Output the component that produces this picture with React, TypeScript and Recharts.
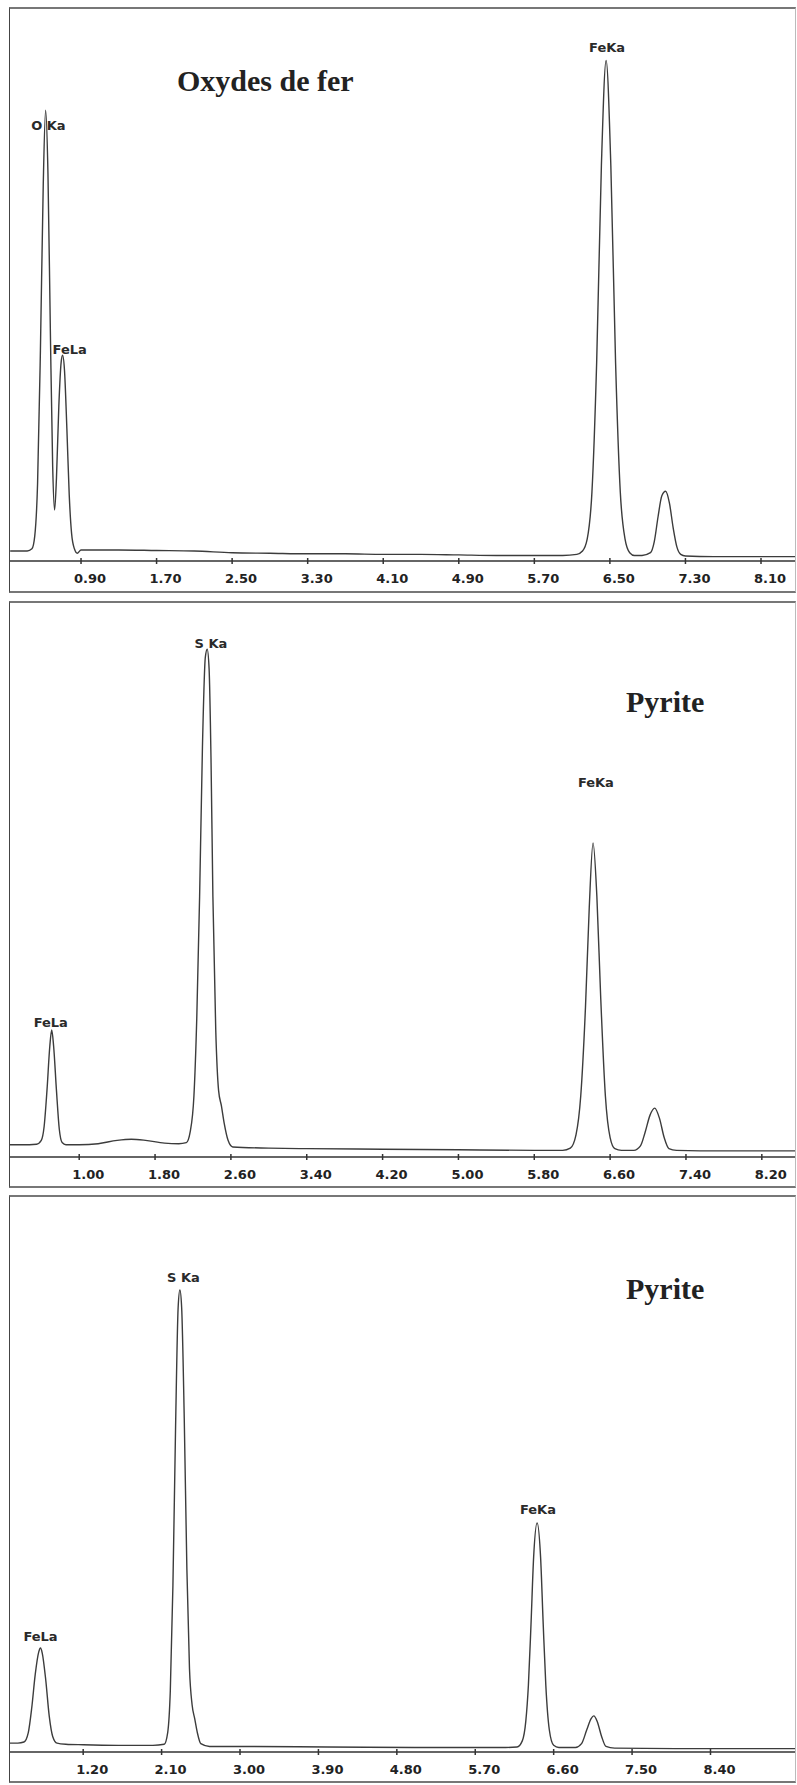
import { LineChart, Line, XAxis, YAxis, ReferenceDot } from "recharts";

// Spectre 1 : oxydes de fer (keV / coups relatifs)
const energies1 = [
  0.15, 0.25, 0.33, 0.38, 0.41, 0.44, 0.47, 0.5, 0.525, 0.55, 0.575, 0.6, 0.62, 0.64, 0.665, 0.69, 0.705, 0.725,
  0.75, 0.775, 0.8, 0.83, 0.86, 0.9, 1.0, 1.3, 1.7, 2.1, 2.5, 2.9, 3.3, 3.7, 4.1, 4.5, 4.9, 5.3, 5.7, 6.0, 6.15,
  6.21, 6.26, 6.31, 6.36, 6.41, 6.46, 6.51, 6.56, 6.61, 6.66, 6.71, 6.76, 6.84, 6.93, 6.97, 7.01, 7.05, 7.09,
  7.13, 7.17, 7.21, 7.25, 7.3, 7.6, 8.0, 8.46,
];
const counts1 = [
  18, 18, 18, 22, 45, 140, 380, 680, 815, 700, 420, 170, 92, 150, 280, 360, 372, 345,
  240, 120, 50, 22, 14, 20, 20, 20, 19, 18, 15, 14, 13, 13, 12, 12, 11, 10, 10, 10, 12,
  18, 40, 125, 360, 715, 905, 715, 360, 125, 40, 15, 10, 10, 15, 35, 80, 118, 126,
  105, 60, 25, 12, 9, 8, 8, 8,
];
const ticks1 = [0.9, 1.7, 2.5, 3.3, 4.1, 4.9, 5.7, 6.5, 7.3, 8.1];

// Spectre 2 : pyrite
const energies2 = [
  0.27, 0.4, 0.55, 0.6, 0.63, 0.66, 0.69, 0.71, 0.73, 0.76, 0.79, 0.82, 0.86, 1.0, 1.2, 1.4, 1.55, 1.7, 1.9,
  2.05, 2.13, 2.17, 2.21, 2.24, 2.27, 2.3, 2.33, 2.35, 2.37, 2.39, 2.41, 2.44, 2.47, 2.5, 2.53, 2.57, 2.62,
  3.0, 3.4, 4.2, 5.0, 5.8, 6.1, 6.18, 6.24, 6.29, 6.34, 6.38, 6.42, 6.46, 6.5, 6.55, 6.6, 6.65, 6.72, 6.85,
  6.92, 6.97, 7.02, 7.07, 7.12, 7.17, 7.22, 7.3, 7.8, 8.55,
];
const counts2 = [
  22, 22, 23, 30, 55, 120, 200, 229, 200, 120, 50, 26, 22, 22, 24, 30, 32, 30, 25,
  24, 26, 45, 110, 250, 470, 740, 900, 915, 880, 720, 470, 230, 120, 92, 60, 30, 18,
  16, 15, 14, 13, 12, 12, 16, 40, 110, 270, 450, 566, 470, 290, 110, 35, 15, 12, 12,
  20, 45, 75, 88, 70, 35, 15, 12, 11, 11,
];
const ticks2 = [1.0, 1.8, 2.6, 3.4, 4.2, 5.0, 5.8, 6.6, 7.4, 8.2];

// Spectre 3 : pyrite
const energies3 = [
  0.36, 0.45, 0.52, 0.57, 0.61, 0.65, 0.69, 0.71, 0.73, 0.77, 0.81, 0.85, 0.9, 1.0, 1.2, 1.6, 2.0,
  2.13, 2.17, 2.2, 2.23, 2.26, 2.29, 2.31, 2.33, 2.36, 2.39, 2.42, 2.45, 2.48, 2.51, 2.55, 2.65,
  3.0, 4.0, 5.0, 6.0, 6.18, 6.24, 6.28, 6.31, 6.34, 6.37, 6.41, 6.45, 6.48, 6.51, 6.55, 6.6, 6.66, 6.85,
  6.92, 6.98, 7.03, 7.06, 7.1, 7.15, 7.2, 7.3, 8.0, 9.37,
];
const counts3 = [
  16, 16, 18, 35, 80, 140, 180, 187, 178, 130, 65, 28, 16, 14, 13, 12, 12,
  14, 35, 110, 300, 580, 800, 831, 800, 600, 330, 150, 85, 60, 35, 15, 10,
  10, 9, 8, 8, 9, 20, 55, 120, 230, 350, 412, 350, 230, 120, 40, 12, 8, 8,
  15, 40, 60, 65, 55, 28, 10, 7, 6, 6,
];
const ticks3 = [1.2, 2.1, 3.0, 3.9, 4.8, 5.7, 6.6, 7.5, 8.4];

// Étiquettes des raies : [texte, keV, hauteur]
const peaks1: [string, number, number][] = [
  ["O Ka", 0.555, 787],
  ["FeLa", 0.78, 383],
  ["FeKa", 6.47, 928],
];
const peaks2: [string, number, number][] = [
  ["S Ka", 2.39, 926],
  ["FeLa", 0.7, 243],
  ["FeKa", 6.45, 674],
];
const peaks3: [string, number, number][] = [
  ["S Ka", 2.35, 853],
  ["FeLa", 0.71, 207],
  ["FeKa", 6.42, 437],
];

const zip = (e: number[], c: number[]) => e.map((kev, i) => ({ kev, counts: c[i] }));

const SANS = "'DejaVu Sans', Verdana, sans-serif";
const SERIF = "'Liberation Serif', 'Times New Roman', serif";
const INK = "#333";

const AxisTick = (props: any) => {
  const { x, y, payload } = props;
  return (
    <g>
      <line x1={x} x2={x} y1={y - 3} y2={y + 3} stroke={INK} strokeWidth={1.5} />
      <text
        x={x + 9}
        y={y + 17}
        textAnchor="middle"
        dominantBaseline="central"
        fontFamily={SANS}
        fontWeight={700}
        fontSize={13}
        fill="#222"
      >
        {payload.value.toFixed(2)}
      </text>
    </g>
  );
};

const PeakLabel = (text: string) => (p: any) => (
  <text
    x={p.cx}
    y={p.cy}
    textAnchor="middle"
    dominantBaseline="central"
    fontFamily={SANS}
    fontWeight={700}
    fontSize={13}
    fill="#2a2a2a"
  >
    {text}
  </text>
);

interface PanelProps {
  top: number;
  axisY: number;
  bottom: number;
  domain: [number, number];
  data: { kev: number; counts: number }[];
  ticks: number[];
  peaks: [string, number, number][];
  title: string;
  titleX: number;
  titleY: number;
}

function Panel({ top, axisY, bottom, domain, data, ticks, peaks, title, titleX, titleY }: PanelProps) {
  const plotH = axisY - top;
  return (
    <>
      <div
        style={{
          position: "absolute",
          left: 9,
          top: top - 1,
          width: 787,
          height: bottom - top + 1,
          boxSizing: "border-box",
          borderTop: "2px solid #777",
          borderBottom: "2px solid #777",
          borderLeft: "1.5px solid #444",
          borderRight: "1px solid #bbb",
        }}
      />
      <div style={{ position: "absolute", left: 10, top }}>
        <LineChart width={785} height={plotH + 32} data={data} margin={{ top: 0, right: 0, bottom: 0, left: 0 }}>
          <XAxis
            dataKey="kev"
            type="number"
            domain={domain}
            allowDataOverflow
            ticks={ticks}
            interval={0}
            height={32}
            tickSize={0}
            tickMargin={0}
            tickLine={false}
            axisLine={{ stroke: INK, strokeWidth: 1.5 }}
            tick={<AxisTick />}
          />
          <YAxis hide domain={[0, 1000]} allowDataOverflow />
          <Line
            type="monotone"
            dataKey="counts"
            stroke="#3c3c3c"
            strokeWidth={1.4}
            dot={false}
            isAnimationActive={false}
          />
          {peaks.map(([t, kev, v]) => (
            <ReferenceDot key={t} x={kev} y={v} r={0} ifOverflow="visible" shape={PeakLabel(t)} />
          ))}
        </LineChart>
      </div>
      <div
        style={{
          position: "absolute",
          left: titleX,
          top: titleY - 19,
          fontFamily: SERIF,
          fontWeight: 700,
          fontSize: 30,
          lineHeight: "38px",
          color: "#222",
          whiteSpace: "nowrap",
        }}
      >
        {title}
      </div>
    </>
  );
}

export default function App() {
  return (
    <div style={{ position: "absolute", left: 0, top: 0, width: 797, height: 1785, background: "#fff" }}>
      <Panel
        top={8}
        axisY={561}
        bottom={593}
        domain={[0.148, 8.46]}
        data={zip(energies1, counts1)}
        ticks={ticks1}
        peaks={peaks1}
        title="Oxydes de fer"
        titleX={177}
        titleY={81}
      />
      <Panel
        top={602}
        axisY={1157}
        bottom={1188}
        domain={[0.27, 8.55]}
        data={zip(energies2, counts2)}
        ticks={ticks2}
        peaks={peaks2}
        title="Pyrite"
        titleX={626}
        titleY={702}
      />
      <Panel
        top={1196}
        axisY={1752}
        bottom={1783}
        domain={[0.36, 9.37]}
        data={zip(energies3, counts3)}
        ticks={ticks3}
        peaks={peaks3}
        title="Pyrite"
        titleX={626}
        titleY={1289}
      />
    </div>
  );
}
